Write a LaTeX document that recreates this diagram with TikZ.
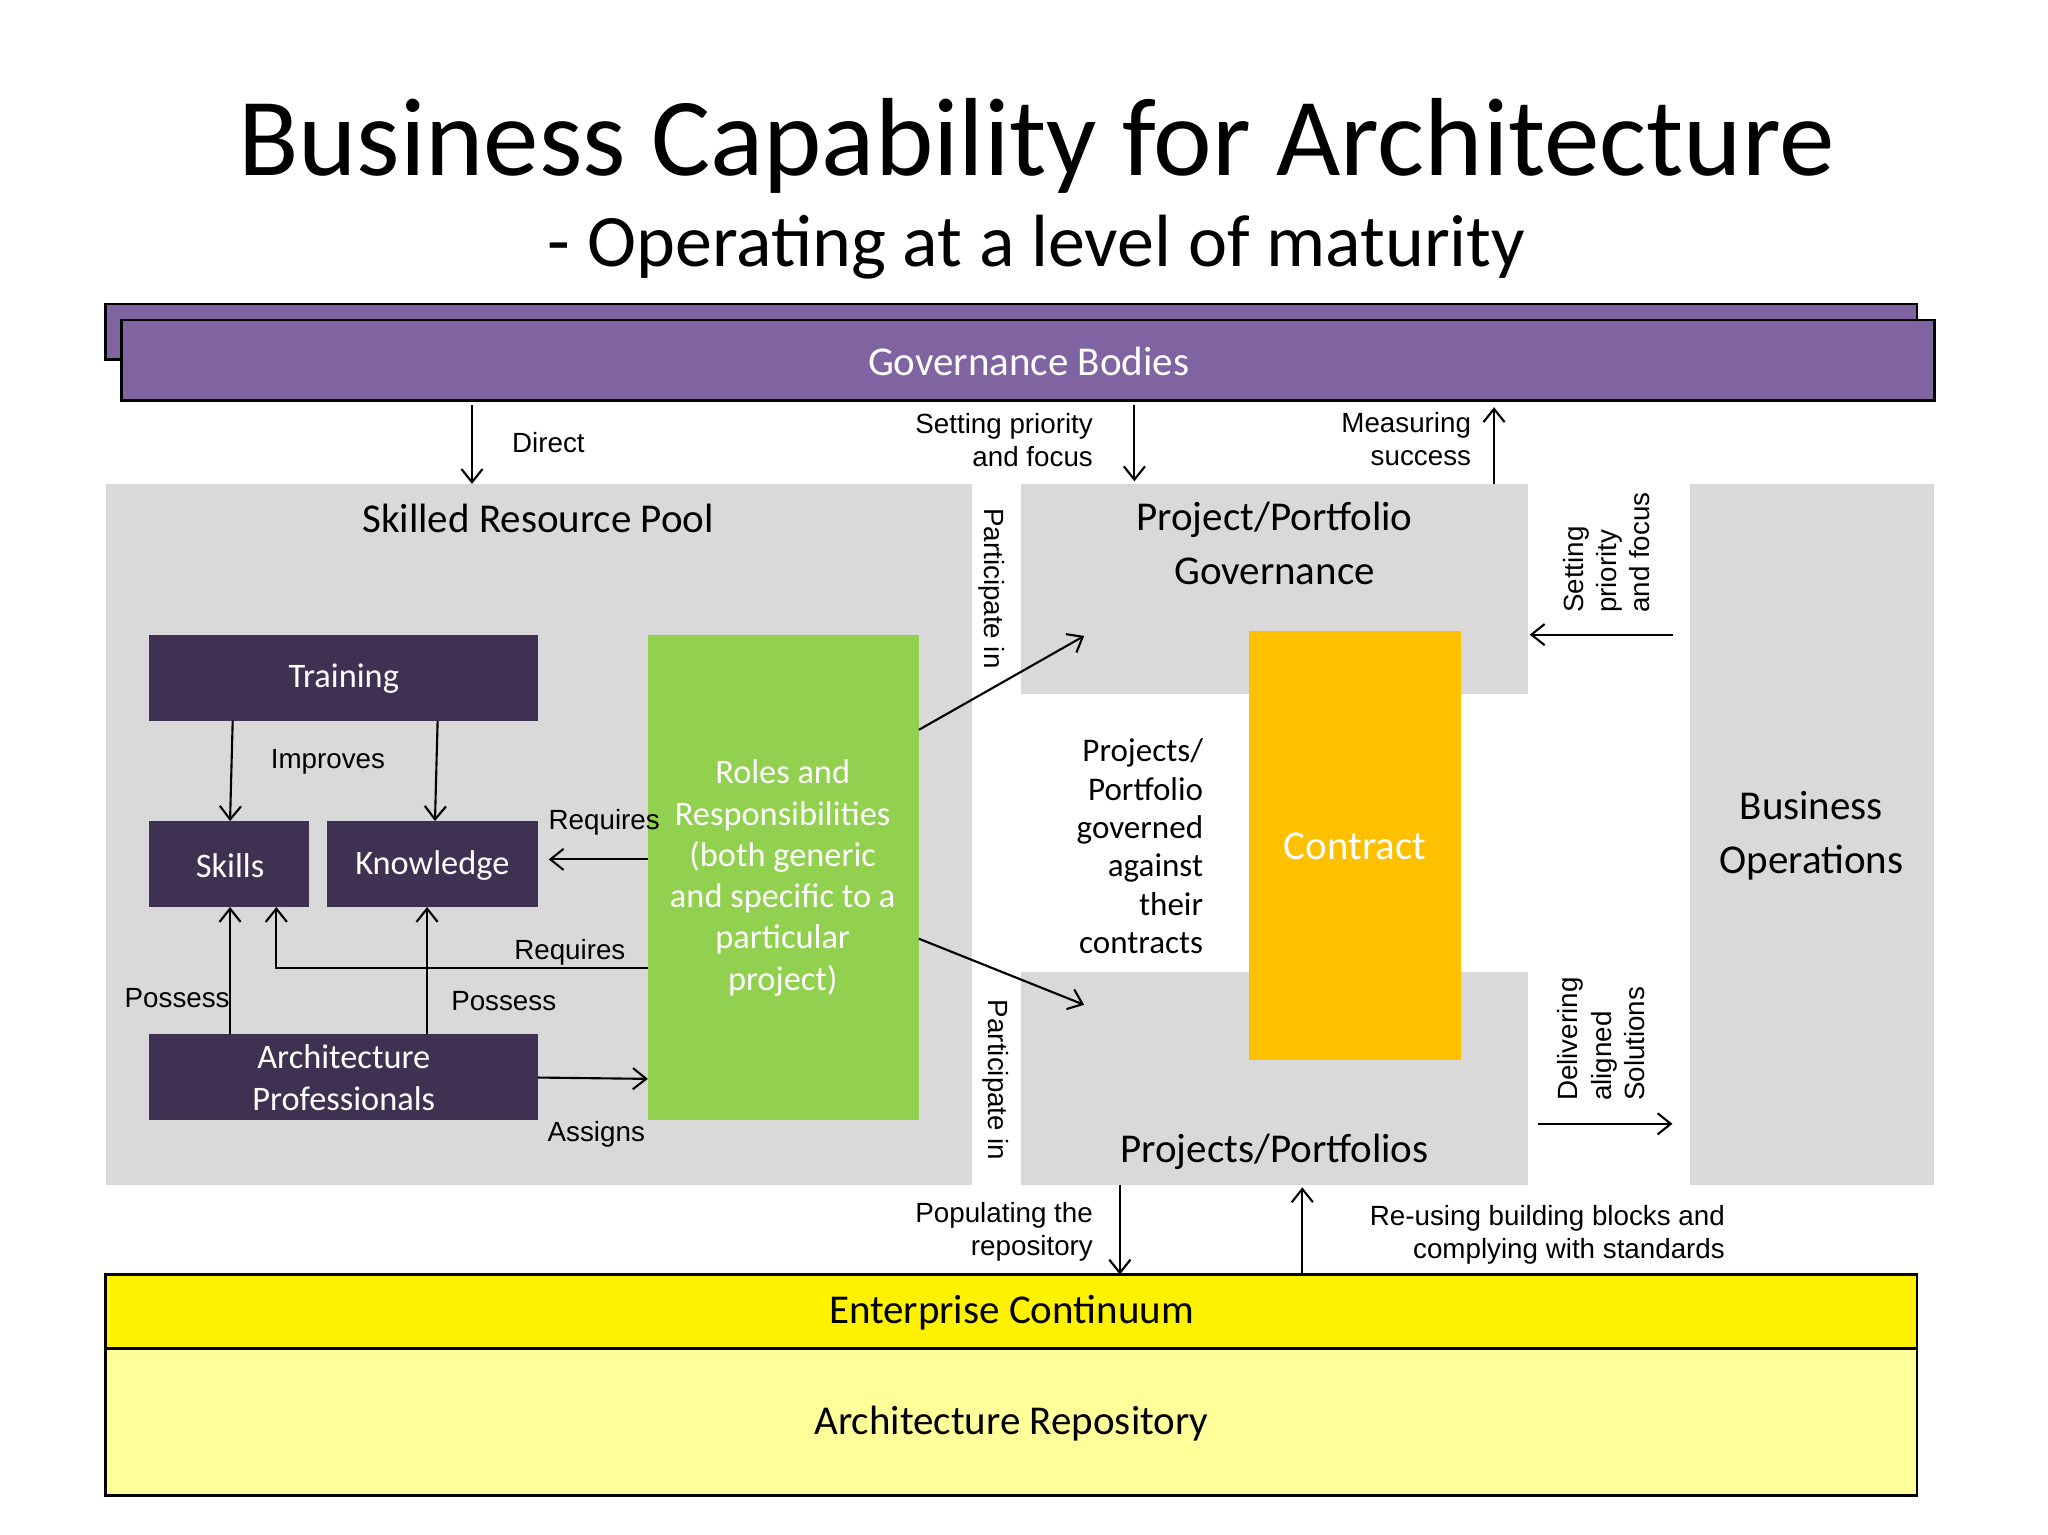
\documentclass[tikz,border=0pt]{standalone}
\usepackage{fontspec}
\setmainfont{Carlito}
\newfontfamily\arial{Liberation Sans}
\usetikzlibrary{arrows.meta}
\begin{document}
\begin{tikzpicture}[x=0.5pt,y=-0.5pt,
  gray/.style={fill=black!15,draw=none},
  dark/.style={fill=black!15!violet!30!black,fill=c3f,draw=none,text=white,font=\fontsize{13}{15}\selectfont},
  arr/.style={-{Straight Barb[length=5pt,width=8pt]},line width=0.8pt},
  lab/.style={font=\arial\fontsize{10.5}{12.5}\selectfont,inner sep=0pt},
  big/.style={font=\fontsize{15.5}{18.5}\selectfont}]
\definecolor{c3f}{HTML}{3F3151}
\definecolor{purp}{HTML}{8064A2}
\definecolor{grn}{HTML}{92D050}
\definecolor{org}{HTML}{FFC000}
\definecolor{lyel}{HTML}{FFFF99}
\useasboundingbox (0,0) rectangle (1549,1161);
\fill[white] (0,0) rectangle (1549,1161);
\node (t1) at (784,110) {\fontsize{42}{48}\selectfont Business Capability for Architecture};
\node (t2) at (784,187) {\fontsize{28}{32}\selectfont - Operating at a level of maturity};
% governance
\draw[fill=purp,line width=1pt] (80,230) rectangle (1450,272);
\draw[fill=purp,line width=1pt] (92,242) rectangle (1463,303);
\node[text=white,big] (gov) at (778,273) {Governance Bodies};
% gray areas
\fill[black!15] (80,366) rectangle (735,896);
\fill[black!15] (772,366) rectangle (1156,525);
\fill[black!15] (772,735) rectangle (1156,896);
\fill[black!15] (1278,366) rectangle (1463,896);
\node[big] (srp) at (407,392) {Skilled Resource Pool};
\node[big,align=center] (ppg) at (964,411) {Project/Portfolio\\[2pt]Governance};
\node[big] (pp) at (964,871) {Projects/Portfolios};
\node[big,align=center] (bo) at (1370,632) {Business\\[2pt]Operations};
% contract
\fill[org] (945,477) rectangle (1105,802);
\node[big,text=white] (con) at (1025,640) {Contract};
% dark boxes
\fill[c3f] (113,480) rectangle (407,545); \node[text=white,font=\fontsize{13}{15}\selectfont] (tr) at (260,513) {Training};
\fill[c3f] (113,621) rectangle (234,686); \node[text=white,font=\fontsize{13}{15}\selectfont] (sk) at (174,655) {Skills};
\fill[c3f] (247,621) rectangle (407,686); \node[text=white,font=\fontsize{13}{15}\selectfont] (kn) at (327,655) {Knowledge};
\fill[c3f] (113,782) rectangle (407,847); \node[text=white,align=center,font=\fontsize{13}{16}\selectfont] (ap) at (260,815) {Architecture\\Professionals};
\fill[grn] (490,480) rectangle (695,847);
\node[text=white,align=center,font=\fontsize{13}{15.6}\selectfont] (rr) at (592,664) {Roles and\\Responsibilities\\(both generic\\and specific to a\\particular\\project)};
% enterprise
\draw[fill=lyel,line width=1pt] (80,1020) rectangle (1450,1131);
\draw[fill=yellow,line width=1pt] (80,964) rectangle (1450,1020);
\node[big] (ec) at (765,993) {Enterprise Continuum};
\node[big] (ar) at (765,1077) {Architecture Repository};
% arrows
\coordinate (a1) at (357,306); \coordinate (a2) at (357,366);
\draw[arr] (a1) -- (a2);
\node[lab,anchor=west] (l1) at (387,335) {Direct};
\coordinate (b1) at (858,306); \coordinate (b2) at (858,364);
\draw[arr] (b1) -- (b2);
\node[lab,anchor=east,align=right] (l2) at (827,333) {Setting priority\\and focus};
\coordinate (c1) at (1130,366); \coordinate (c2) at (1130,308);
\draw[arr] (c1) -- (c2);
\node[lab,anchor=east,align=right] (l3) at (1113,332) {Measuring\\success};
\coordinate (d1) at (1265,480); \coordinate (d2) at (1157,480);
\draw[arr] (d1) -- (d2);
\node[lab,rotate=90,align=left] (l4) at (1215,418) {Setting\\priority\\and focus};
\coordinate (e1) at (1163,850); \coordinate (e2) at (1265,850);
\draw[arr] (e1) -- (e2);
\node[lab,rotate=90,align=left] (l5) at (1211,786) {Delivering\\aligned\\Solutions};
\node[lab,rotate=-90] (l6) at (750,445) {Participate in};
\node[lab,rotate=-90] (l7) at (753,817) {Participate in};
\coordinate (f1) at (695,552); \coordinate (f2) at (820,481);
\draw[arr] (f1) -- (f2);
\coordinate (g1) at (695,710); \coordinate (g2) at (820,760);
\draw[arr] (g1) -- (g2);
\coordinate (h1) at (176,545); \coordinate (h2) at (174,621);
\draw[arr] (h1) -- (h2);
\coordinate (i1) at (331,545); \coordinate (i2) at (329,621);
\draw[arr] (i1) -- (i2);
\node[lab] (l8) at (248,576) {Improves};
\coordinate (j1) at (490,650); \coordinate (j2) at (415,650);
\draw[arr] (j1) -- (j2);
\node[lab] (l9) at (457,622) {Requires};
\coordinate (k1) at (490,732); \coordinate (k2) at (209,686);
\draw[arr] (k1) -| (k2);
\node[lab] (l10) at (431,720) {Requires};
\coordinate (m1) at (174,782); \coordinate (m2) at (174,686);
\draw[arr] (m1) -- (m2);
\coordinate (n1) at (323,782); \coordinate (n2) at (323,686);
\draw[arr] (n1) -- (n2);
\node[lab] (l11) at (134,755) {Possess};
\node[lab] (l12) at (381,757) {Possess};
\coordinate (o1) at (407,815); \coordinate (o2) at (490,816);
\draw[arr] (o1) -- (o2);
\node[lab] (l13) at (451,858) {Assigns};
\coordinate (p1) at (847,896); \coordinate (p2) at (847,964);
\draw[arr] (p1) -- (p2);
\node[lab,anchor=east,align=right] (l14) at (827,932) {Populating the\\repository};
\coordinate (q1) at (985,964); \coordinate (q2) at (985,898);
\draw[arr] (q1) -- (q2);
\node[lab,anchor=east,align=right] (l15) at (1305,934) {Re-using building blocks and\\complying with standards};
\node[anchor=east,align=right,font=\fontsize{12.5}{14.5}\selectfont] (l16) at (917,640) {Projects/\\Portfolio\\governed\\against\\their\\contracts};
\end{tikzpicture}
\end{document}
